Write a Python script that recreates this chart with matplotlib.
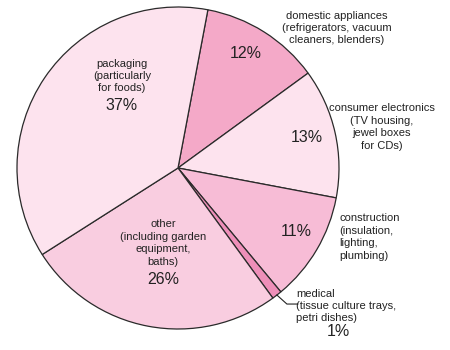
import numpy as np
import matplotlib
matplotlib.use('Agg')
import matplotlib.pyplot as plt

plt.rcParams['font.family'] = ['Liberation Sans', 'DejaVu Sans']

# data
categories = ['domestic appliances', 'consumer electronics', 'construction',
              'medical', 'other', 'packaging']
shares = [12, 13, 11, 1, 26, 37]
descriptions = [
    'domestic appliances\n(refrigerators, vacuum\ncleaners, blenders)',
    'consumer electronics\n(TV housing,\njewel boxes\nfor CDs)',
    'construction\n(insulation,\nlighting,\nplumbing)',
    'medical\n(tissue culture trays,\npetri dishes)',
    'other\n(including garden\nequipment,\nbaths)',
    'packaging\n(particularly\nfor foods)',
]
colors = ['#f4a9c8', '#fde3ee', '#f7bcd6', '#ee8fb9', '#f9cde0', '#fde3ee']

W, H = 450, 350
fig = plt.figure(figsize=(4.5, 3.5), dpi=100)
ax = fig.add_axes([0, 0, 1, 1])

cx, cy, r = 178, H - 168, 161
wedges, _ = ax.pie(shares, colors=colors, startangle=79.3, counterclock=False,
                   center=(cx, cy), radius=r, frame=True,
                   wedgeprops=dict(edgecolor='#2a2a2a', linewidth=0.9))
ax.set_xlim(0, W)
ax.set_ylim(0, H)
ax.set_aspect('equal')
ax.axis('off')


def px(x, y):
    return x, H - y


lab = dict(fontsize=8, color='#222222', linespacing=1.3)
pct = dict(fontsize=11.5, color='#222222')

# packaging
ax.text(*px(122, 76), descriptions[5], ha='center', va='center', **lab)
ax.text(*px(122, 106), f'{shares[5]}%', ha='center', va='center', **pct)
# domestic
ax.text(*px(337, 28), descriptions[0], ha='center', va='center', **lab)
ax.text(*px(246, 54), f'{shares[0]}%', ha='center', va='center', **pct)
# consumer electronics
ax.text(*px(382, 127), descriptions[1], ha='center', va='center', **lab)
ax.text(*px(307, 137), f'{shares[1]}%', ha='center', va='center', **pct)
# construction
ax.text(*px(339, 237), descriptions[2], ha='left', va='center', **lab)
ax.text(*px(296, 231), f'{shares[2]}%', ha='center', va='center', **pct)
# medical
ax.text(*px(296, 306), descriptions[3], ha='left', va='center', **lab)
ax.text(*px(338, 332), f'{shares[3]}%', ha='center', va='center', **pct)
# other
ax.text(*px(163, 243), descriptions[4], ha='center', va='center', **lab)
ax.text(*px(163, 279), f'{shares[4]}%', ha='center', va='center', **pct)

# leader line for the medical slice
w = wedges[3]
mid = np.deg2rad((w.theta1 + w.theta2) / 2)
sx, sy = cx + r * np.cos(mid), cy + r * np.sin(mid)
ax.plot([sx, sx + 10, sx + 21], [sy, sy - 9, sy - 9], color='#222222', lw=0.8)

fig.savefig('out.png', dpi=100, facecolor='white')
